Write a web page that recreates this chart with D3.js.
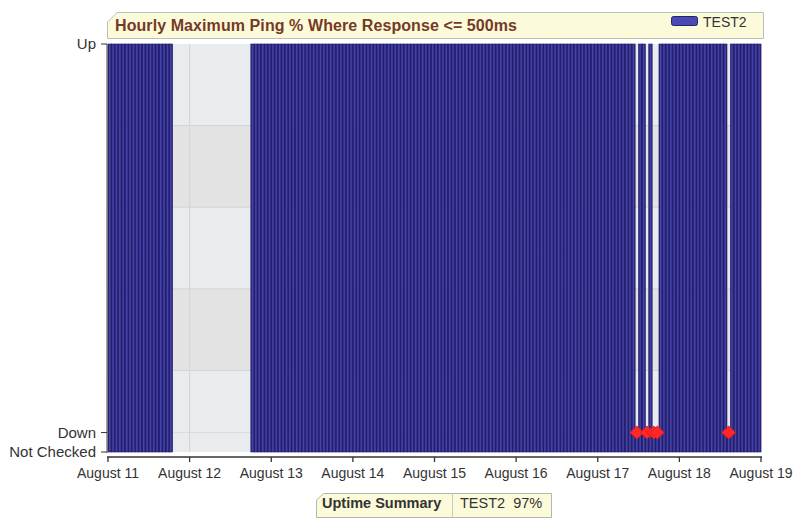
<!DOCTYPE html>
<html>
<head>
<meta charset="utf-8">
<script src="https://cdn.jsdelivr.net/npm/d3@7"></script>
<style>
  html, body { margin: 0; padding: 0; background: #ffffff; }
  svg { display: block; }
</style>
</head>
<body>
<svg id="chart" width="795" height="520"></svg>
<script>
// ---------------- data ----------------
const chartTitle = "Hourly Maximum Ping % Where Response <= 500ms";
const seriesName = "TEST2";
const startDate = new Date(2011, 7, 11, 0, 0);   // August 11, 00:00
const endDate = new Date(2011, 7, 19, 0, 0);     // August 19, 00:00
const dayLabels = ["August 11", "August 12", "August 13", "August 14", "August 15",
                   "August 16", "August 17", "August 18", "August 19"];
// hourly status per day (24 hours each): U = Up, D = Down, N = Not Checked
const hourlyStatusByDay = [
  "UUUUUUUUUUUUUUUUUUUNNNNN", // Aug 11
  "NNNNNNNNNNNNNNNNNNUUUUUU", // Aug 12
  "UUUUUUUUUUUUUUUUUUUUUUUU", // Aug 13
  "UUUUUUUUUUUUUUUUUUUUUUUU", // Aug 14
  "UUUUUUUUUUUUUUUUUUUUUUUU", // Aug 15
  "UUUUUUUUUUUUUUUUUUUUUUUU", // Aug 16
  "UUUUUUUUUUUDUUDUDDUUUUUU", // Aug 17
  "UUUUUUUUUUUUUUDUUUUUUUUU"  // Aug 18
];
const statusValue = { U: 100, D: 0, N: null };
const yTickValues = [100, 0, -5];
const yTickLabels = ["Up", "Down", "Not Checked"];
const yDomain = [-5, 100];

// ---------------- layout ----------------
const svg = d3.select("#chart");
const plot = { left: 107, right: 761, top: 44, bottom: 452 };

const x = d3.scaleTime().domain([startDate, endDate]).range([108, 761]);
const y = d3.scaleLinear().domain(yDomain).range([plot.bottom, plot.top]);

const hours = [];
hourlyStatusByDay.forEach((s, d) => {
  s.split("").forEach((c, h) => {
    const t = d3.timeHour.offset(startDate, d * 24 + h);
    hours.push({ t, t1: d3.timeHour.offset(t, 1), status: c, value: statusValue[c] });
  });
});

const defs = svg.append("defs");
const grad = defs.append("linearGradient").attr("id", "barGrad")
  .attr("x1", "0").attr("x2", "1").attr("y1", "0").attr("y2", "0");
grad.append("stop").attr("offset", "0%").attr("stop-color", "#1d1968");
grad.append("stop").attr("offset", "45%").attr("stop-color", "#4846ab");
grad.append("stop").attr("offset", "100%").attr("stop-color", "#221d72");

// ---------------- background bands & grid ----------------
const nBands = 5;
const bandEdges = d3.range(nBands + 1).map(i => yDomain[0] + (yDomain[1] - yDomain[0]) * i / nBands);
const bg = svg.append("g");
d3.range(nBands).forEach(i => {
  const top = y(bandEdges[nBands - i]);
  const bot = y(bandEdges[nBands - i - 1]);
  bg.append("rect")
    .attr("x", plot.left).attr("y", top)
    .attr("width", plot.right + 1 - plot.left).attr("height", bot - top)
    .attr("fill", i % 2 === 0 ? "#e9ecef" : "#e3e3e3");
});
bandEdges.slice(1, -1).forEach(v => {
  bg.append("line")
    .attr("x1", plot.left).attr("x2", plot.right + 1)
    .attr("y1", y(v)).attr("y2", y(v))
    .attr("stroke", "#d3d3d3").attr("stroke-width", 1);
});
bg.append("line")
  .attr("x1", plot.left).attr("x2", plot.right + 1)
  .attr("y1", y(0)).attr("y2", y(0))
  .attr("stroke", "#dcdcdc").attr("stroke-width", 1);
const dayTicks = d3.timeDay.range(startDate, d3.timeDay.offset(endDate, 1));
dayTicks.forEach(d => {
  bg.append("line")
    .attr("x1", x(d)).attr("x2", x(d))
    .attr("y1", plot.top).attr("y2", plot.bottom)
    .attr("stroke", "#d3d3d3").attr("stroke-width", 1);
});

// ---------------- bars ----------------
svg.append("g")
  .selectAll("rect")
  .data(hours.filter(d => d.value !== null))
  .join("rect")
  .attr("x", d => x(d.t))
  .attr("width", d => x(d.t1) - x(d.t))
  .attr("y", d => y(d.value))
  .attr("height", d => y(yDomain[0]) - y(d.value))
  .attr("fill", "url(#barGrad)")
  .attr("stroke", "#1c1864")
  .attr("stroke-width", 0.6);

// ---------------- down markers ----------------
svg.append("g")
  .selectAll("path")
  .data(hours.filter(d => d.status === "D"))
  .join("path")
  .attr("transform", d => `translate(${(x(d.t) + x(d.t1)) / 2},${y(d.value)})`)
  .attr("d", "M0,-6.5 L7,0 L0,6.5 L-7,0 Z")
  .attr("fill", "#ff2828")
  .attr("stroke", "#e41414")
  .attr("stroke-width", 0.8);

// ---------------- axes ----------------
const yAxis = svg.append("g");
yAxis.append("line")
  .attr("x1", plot.left).attr("x2", plot.left)
  .attr("y1", plot.top).attr("y2", plot.bottom + 1)
  .attr("stroke", "#4a4a4a");
yTickValues.forEach((v, i) => {
  yAxis.append("line")
    .attr("x1", plot.left - 6).attr("x2", plot.left)
    .attr("y1", y(v)).attr("y2", y(v))
    .attr("stroke", "#333");
  yAxis.append("text")
    .attr("x", 96).attr("y", y(v))
    .attr("dy", "0.35em")
    .attr("text-anchor", "end")
    .attr("font-family", "'Liberation Sans', Arial, sans-serif")
    .attr("font-size", 15)
    .attr("fill", "#333")
    .text(yTickLabels[i]);
});

const axisY = 457;
const xAxis = svg.append("g");
xAxis.append("line")
  .attr("x1", plot.left).attr("x2", plot.right + 1)
  .attr("y1", axisY).attr("y2", axisY)
  .attr("stroke", "#333").attr("stroke-width", 1.3);
dayTicks.forEach((d, i) => {
  xAxis.append("line")
    .attr("x1", x(d)).attr("x2", x(d))
    .attr("y1", axisY).attr("y2", axisY + 5)
    .attr("stroke", "#333").attr("stroke-width", 1.3);
  xAxis.append("text")
    .attr("x", x(d)).attr("y", 478)
    .attr("text-anchor", "middle")
    .attr("font-family", "'Liberation Sans', Arial, sans-serif")
    .attr("font-size", 14)
    .attr("fill", "#333")
    .text(dayLabels[i]);
});

// ---------------- title box with legend ----------------
const tb = svg.append("g");
tb.append("path")
  .attr("d", "M107.5,38.5 L107.5,22 L117,12.5 L763.5,12.5 L763.5,38.5 Z")
  .attr("fill", "#fcfbd9")
  .attr("stroke", "#bdbdbd");
tb.append("text")
  .attr("x", 115).attr("y", 31)
  .attr("font-family", "'Liberation Sans', Arial, sans-serif")
  .attr("font-weight", "bold")
  .attr("font-size", 16)
  .attr("textLength", 402)
  .attr("lengthAdjust", "spacing")
  .attr("fill", "#753a27")
  .text(chartTitle);
tb.append("rect")
  .attr("x", 671.5).attr("y", 16.5).attr("width", 26).attr("height", 9).attr("rx", 2)
  .attr("fill", "#4b4ab2").attr("stroke", "#24216e");
tb.append("text")
  .attr("x", 703).attr("y", 27)
  .attr("font-family", "'Liberation Sans', Arial, sans-serif")
  .attr("font-size", 14)
  .attr("fill", "#333")
  .text(seriesName);

// ---------------- uptime summary ----------------
const upCount = hours.filter(d => d.status === "U").length;
const checkedCount = hours.filter(d => d.status !== "N").length;
const uptimePct = Math.round(100 * upCount / checkedCount);
const sb = svg.append("g");
sb.append("path")
  .attr("d", "M316.5,517.5 L316.5,500 L323.5,493.5 L551.5,493.5 L551.5,517.5 Z")
  .attr("fill", "#fcfbd9")
  .attr("stroke", "#b5b5b5");
sb.append("line")
  .attr("x1", 452.5).attr("x2", 452.5).attr("y1", 493.5).attr("y2", 517.5)
  .attr("stroke", "#c8c8c8");
sb.append("text")
  .attr("x", 322).attr("y", 508)
  .attr("font-family", "'Liberation Sans', Arial, sans-serif")
  .attr("font-weight", "bold")
  .attr("font-size", 14.5)
  .attr("fill", "#333")
  .text("Uptime Summary");
sb.append("text")
  .attr("x", 460).attr("y", 508)
  .attr("font-family", "'Liberation Sans', Arial, sans-serif")
  .attr("font-size", 14.5)
  .attr("fill", "#333")
  .attr("xml:space", "preserve")
  .style("white-space", "pre")
  .text(`${seriesName}  ${uptimePct}%`);
</script>
</body>
</html>
